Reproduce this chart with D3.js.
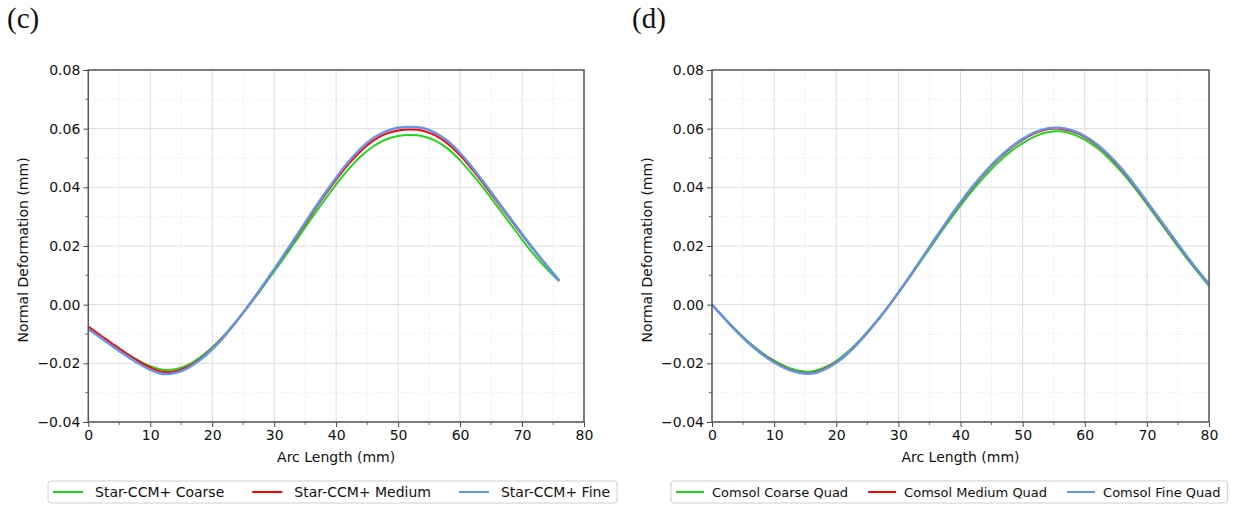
<!DOCTYPE html>
<html>
<head>
<meta charset="utf-8">
<script src="https://cdn.jsdelivr.net/npm/d3@7"></script>
<style>
  body { margin: 0; background: #fff; }
  text { font-family: "DejaVu Sans", sans-serif; fill: #111; }
</style>
</head>
<body>
<svg id="chart" width="1237" height="505"></svg>
<script>
// ---- data ----
const xTicks = [0, 10, 20, 30, 40, 50, 60, 70, 80]
const xMinor = [5, 15, 25, 35, 45, 55, 65, 75]
const yTicks = [-0.04, -0.02, 0.00, 0.02, 0.04, 0.06, 0.08]
const yMinor = [-0.03, -0.01, 0.01, 0.03, 0.05, 0.07]

// (c) Star-CCM+
const starX = [0, 2, 4, 6, 8, 10, 12, 14, 16, 18, 20, 22, 24, 26, 28, 30, 32, 34, 36, 38,
  40, 42, 44, 46, 48, 50, 52, 54, 56, 58, 60, 62, 64, 66, 68, 70, 72, 74, 76]
const starFine = [-0.0083, -0.0113, -0.0143, -0.0172, -0.0199, -0.0222, -0.0236, -0.0233, -0.0217, -0.0189,
  -0.0152, -0.0107, -0.0055, 0.0001, 0.0060, 0.0121, 0.0184, 0.0248, 0.0312, 0.0374,
  0.0433, 0.0487, 0.0533, 0.0568, 0.0591, 0.0603, 0.0606, 0.0602, 0.0586, 0.0558,
  0.0517, 0.0467, 0.0412, 0.0355, 0.0298, 0.0241, 0.0186, 0.0133, 0.0082]
const starMedium = [-0.0075, -0.0105, -0.0135, -0.0164, -0.0191, -0.0214, -0.0229, -0.0227, -0.0212, -0.0185,
  -0.0149, -0.0105, -0.0054, 0.0001, 0.0059, 0.0119, 0.0181, 0.0244, 0.0307, 0.0368,
  0.0426, 0.0479, 0.0524, 0.0559, 0.0582, 0.0594, 0.0597, 0.0593, 0.0577, 0.0549,
  0.0509, 0.0460, 0.0406, 0.0350, 0.0294, 0.0238, 0.0184, 0.0132, 0.0082]
const starCoarseX = [3.6, 4, 6, 8, 10, 12, 14, 16, 18, 20, 22, 24, 26, 28, 30, 32, 34, 36, 38,
  40, 42, 44, 46, 48, 50, 52, 54, 56, 58, 60, 62, 64, 66, 68, 70, 72, 74, 76]
const starCoarse = [-0.0136, -0.0140, -0.0165, -0.0189, -0.0210, -0.0222, -0.0220, -0.0206, -0.0180,
  -0.0145, -0.0103, -0.0054, -0.0001, 0.0055, 0.0113, 0.0172, 0.0233, 0.0294, 0.0353,
  0.0410, 0.0462, 0.0506, 0.0540, 0.0563, 0.0575, 0.0578, 0.0574, 0.0559, 0.0532,
  0.0492, 0.0444, 0.0391, 0.0335, 0.0279, 0.0222, 0.0169, 0.0122, 0.0080]

// (d) Comsol
const comsolX = [0, 2, 4, 6, 8, 10, 12, 14, 16, 18, 20, 22, 24, 26, 28, 30, 32, 34, 36, 38,
  40, 42, 44, 46, 48, 50, 52, 54, 56, 58, 60, 62, 64, 66, 68, 70, 72, 74, 76, 78, 80]
const comsolFine = [0.0000, -0.0047, -0.0092, -0.0133, -0.0168, -0.0197, -0.0219, -0.0232, -0.0235, -0.0222,
  -0.0198, -0.0163, -0.0120, -0.0071, -0.0017, 0.0041, 0.0102, 0.0165, 0.0228, 0.0290,
  0.0349, 0.0404, 0.0454, 0.0498, 0.0535, 0.0565, 0.0588, 0.0601, 0.0603, 0.0594,
  0.0575, 0.0546, 0.0508, 0.0462, 0.0409, 0.0352, 0.0294, 0.0236, 0.0178, 0.0122, 0.0070]
const comsolMedium = [0.0000, -0.0047, -0.0091, -0.0132, -0.0167, -0.0195, -0.0217, -0.0230, -0.0233, -0.0220,
  -0.0196, -0.0162, -0.0119, -0.0070, -0.0017, 0.0041, 0.0101, 0.0164, 0.0226, 0.0288,
  0.0347, 0.0401, 0.0451, 0.0495, 0.0532, 0.0562, 0.0585, 0.0598, 0.0600, 0.0591,
  0.0572, 0.0543, 0.0505, 0.0459, 0.0406, 0.0349, 0.0291, 0.0233, 0.0176, 0.0120, 0.0068]
const comsolCoarse = [0.0000, -0.0046, -0.0089, -0.0129, -0.0163, -0.0191, -0.0212, -0.0225, -0.0228, -0.0215,
  -0.0192, -0.0158, -0.0116, -0.0068, -0.0016, 0.0040, 0.0099, 0.0160, 0.0221, 0.0281,
  0.0338, 0.0391, 0.0440, 0.0484, 0.0521, 0.0551, 0.0574, 0.0588, 0.0591, 0.0582,
  0.0563, 0.0534, 0.0496, 0.0451, 0.0399, 0.0343, 0.0285, 0.0227, 0.0170, 0.0116, 0.0064]

const GREEN = "#1ed81e", RED = "#ff0000", BLUE = "#6495ed"

const svg = d3.select("#chart")

function zip(xs, ys) {
  return xs.map((x, i) => [x, ys[i]])
}

function drawPanel(opts) {
  const x = d3.scaleLinear().domain([0, 80]).range([opts.x0, opts.x1])
  const y = d3.scaleLinear().domain([-0.04, 0.08]).range([422, 70])
  const g = svg.append("g")

  // minor grid (dotted)
  g.selectAll(".gxm").data(xMinor).enter().append("line")
    .attr("x1", d => x(d)).attr("x2", d => x(d)).attr("y1", y(-0.04)).attr("y2", y(0.08))
    .attr("stroke", "#e0e0e0").attr("stroke-width", 0.8).attr("stroke-dasharray", "1,2")
  g.selectAll(".gym").data(yMinor).enter().append("line")
    .attr("x1", x(0)).attr("x2", x(80)).attr("y1", d => y(d)).attr("y2", d => y(d))
    .attr("stroke", "#e0e0e0").attr("stroke-width", 0.8).attr("stroke-dasharray", "1,2")
  // major grid
  g.selectAll(".gx").data(xTicks).enter().append("line")
    .attr("x1", d => x(d)).attr("x2", d => x(d)).attr("y1", y(-0.04)).attr("y2", y(0.08))
    .attr("stroke", "#dcdcdc").attr("stroke-width", 1)
  g.selectAll(".gy").data(yTicks).enter().append("line")
    .attr("x1", x(0)).attr("x2", x(80)).attr("y1", d => y(d)).attr("y2", d => y(d))
    .attr("stroke", "#dcdcdc").attr("stroke-width", 1)

  // curves
  const line = d3.line().x(d => x(d[0])).y(d => y(d[1])).curve(d3.curveCatmullRom)
  opts.series.forEach(s => {
    g.append("path").datum(zip(s.x, s.y))
      .attr("fill", "none").attr("stroke", s.color).attr("stroke-width", s.width)
      .attr("d", line)
  })

  // axes
  const xAxis = d3.axisBottom(x).tickValues(xTicks).tickSize(5).tickSizeOuter(0).tickPadding(3)
    .tickFormat(d3.format("d"))
  const yAxis = d3.axisLeft(y).tickValues(yTicks).tickSize(5).tickSizeOuter(0).tickPadding(3)
    .tickFormat(d3.format(".2f"))
  const gx = g.append("g").attr("transform", "translate(0," + y(-0.04) + ")").call(xAxis)
  const gy = g.append("g").attr("transform", "translate(" + x(0) + ",0)").call(yAxis)
  ;[gx, gy].forEach(a => {
    a.select(".domain").remove()
    a.selectAll("line").attr("stroke", "#444").attr("stroke-width", 1)
    a.selectAll("text").style("font-size", "14px").style("font-family", "DejaVu Sans").attr("fill", "#111")
  })
  // minor ticks
  g.selectAll(".mtx").data(xMinor).enter().append("line")
    .attr("x1", d => x(d)).attr("x2", d => x(d)).attr("y1", y(-0.04)).attr("y2", y(-0.04) + 3)
    .attr("stroke", "#444").attr("stroke-width", 0.8)
  g.selectAll(".mty").data(yMinor).enter().append("line")
    .attr("x1", x(0) - 3).attr("x2", x(0)).attr("y1", d => y(d)).attr("y2", d => y(d))
    .attr("stroke", "#444").attr("stroke-width", 0.8)

  // frame
  g.append("rect")
    .attr("x", x(0)).attr("y", y(0.08)).attr("width", x(80) - x(0)).attr("height", y(-0.04) - y(0.08))
    .attr("fill", "none").attr("stroke", "#555").attr("stroke-width", 1.5)

  // labels
  g.append("text").attr("x", (x(0) + x(80)) / 2).attr("y", 462).attr("text-anchor", "middle")
    .style("font-size", "14px").text("Arc Length (mm)")
  g.append("text").attr("transform", "translate(" + (x(0) - 60) + "," + ((y(0.08) + y(-0.04)) / 2 + 4) + ") rotate(-90)")
    .attr("text-anchor", "middle").style("font-size", "14px").text("Normal Deformation (mm)")
  g.append("text").attr("x", opts.tagX).attr("y", 28)
    .style("font-family", "'Liberation Serif', 'Times New Roman', serif").style("font-size", "29px")
    .attr("fill", "#000").text(opts.tag)

  // legend
  const L = opts.legend
  const lg = g.append("g")
  const box = lg.append("rect").attr("x", L.x).attr("y", 481).attr("height", 22)
    .attr("rx", 3).attr("fill", "#fff").attr("stroke", "#cfcfcf").attr("stroke-width", 1)
  let cx = L.x + L.pad
  opts.series.forEach((s, i) => {
    lg.append("line").attr("x1", cx).attr("x2", cx + L.handle).attr("y1", 492).attr("y2", 492)
      .attr("stroke", s.color).attr("stroke-width", 2)
    const t = lg.append("text").attr("x", cx + L.handle + L.textPad).attr("y", 492 + L.font * 0.36)
      .style("font-size", L.font + "px").text(s.name)
    cx = cx + L.handle + L.textPad + t.node().getComputedTextLength() + (i < opts.series.length - 1 ? L.colGap : L.pad + 2)
  })
  box.attr("width", cx - L.x)
}

drawPanel({
  x0: 88.3, x1: 584, tag: "(c)", tagX: 7,
  legend: {x: 48, pad: 5, handle: 30, textPad: 12, colGap: 28, font: 14},
  series: [
    {name: "Star-CCM+ Coarse", x: starCoarseX, y: starCoarse, color: GREEN, width: 2},
    {name: "Star-CCM+ Medium", x: starX, y: starMedium, color: RED, width: 2},
    {name: "Star-CCM+ Fine", x: starX, y: starFine, color: BLUE, width: 2.5}
  ]
})

drawPanel({
  x0: 712, x1: 1209, tag: "(d)", tagX: 632,
  legend: {x: 671, pad: 5, handle: 28, textPad: 8, colGap: 20, font: 13},
  series: [
    {name: "Comsol Coarse Quad", x: comsolX, y: comsolCoarse, color: GREEN, width: 2},
    {name: "Comsol Medium Quad", x: comsolX, y: comsolMedium, color: RED, width: 2},
    {name: "Comsol Fine Quad", x: comsolX, y: comsolFine, color: BLUE, width: 2.5}
  ]
})
</script>
</body>
</html>
